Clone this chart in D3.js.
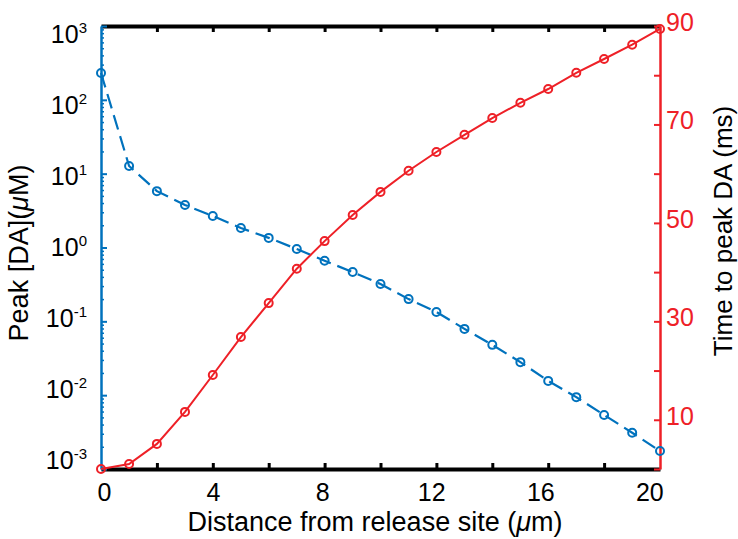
<!DOCTYPE html>
<html>
<head>
<meta charset="utf-8">
<script src="https://cdn.jsdelivr.net/npm/d3@7"></script>
<style>
  body { margin: 0; background: #fff; }
  text { font-family: "Liberation Sans", Arial, Helvetica, sans-serif; }
</style>
</head>
<body>
<div id="chart"></div>
<script>
// distance from release site (um), one point per step
var distance = [0, 1.03, 2.05, 3.08, 4.1, 5.13, 6.15, 7.18, 8.2, 9.23, 10.25,
                11.28, 12.3, 13.33, 14.35, 15.38, 16.4, 17.43, 18.45, 19.48, 20.5];

// peak [DA] (uM), left log axis
var peakDA = [231, 12.7, 5.8, 3.77, 2.67, 1.84, 1.35, 0.955, 0.66, 0.466, 0.32,
              0.20, 0.134, 0.079, 0.048, 0.028, 0.0156, 0.0094, 0.0054, 0.0031, 0.00175];

// time to peak DA (ms), right axis
var timeToPeak = [0, 1.0, 5.1, 11.6, 19.1, 26.8, 33.7, 40.7, 46.3, 51.6, 56.3,
                  60.6, 64.4, 67.9, 71.3, 74.4, 77.2, 80.5, 83.3, 86.2, 89.4];

var xLabels = [0, 4, 8, 12, 16, 20];
var leftExp = [3, 2, 1, 0, -1, -2, -3];
var rightLabels = [10, 30, 50, 70, 90];

var blue = "#0072bd",
    red = "#ee2027";

var W = 738, H = 539;
var margin = {top: 26, right: 78, bottom: 70, left: 101},
    width = W - margin.left - margin.right,
    height = H - margin.top - margin.bottom;

var svg = d3.select("#chart")
  .append("svg")
    .attr("width", W)
    .attr("height", H);

var g = svg.append("g")
    .attr("transform", "translate(" + margin.left + "," + margin.top + ")");

var x = d3.scaleLinear().domain([0, 20.5]).range([0, width]);
var yL = d3.scaleLog().domain([1e-3, 1e3]).range([height, 0]);
var yR = d3.scaleLinear().domain([0, 90]).range([height, 0]);
// the exported figure squeezes the left labels slightly towards the middle
var yLabel = d3.scaleLog().domain([1e-3, 1e3]).range([height - 9, 8]);

// ---- bottom / top black frame with inward ticks ----
var tickPos = distance.filter(function(d, i) { return i % 2 === 0 && i > 0 && i < 20; });

var xBottom = g.append("g")
    .attr("transform", "translate(0," + height + ")")
    .call(d3.axisTop(x).tickValues(tickPos).tickSize(6).tickSizeOuter(0).tickFormat(""));
var xTop = g.append("g")
    .call(d3.axisBottom(x).tickValues(tickPos).tickSize(6).tickSizeOuter(0).tickFormat(""));
[xBottom, xTop].forEach(function(a) {
  a.select(".domain").attr("stroke", "#000").attr("stroke-width", 4);
  a.selectAll(".tick line").attr("stroke", "#000").attr("stroke-width", 3);
});

// x tick labels
var xLab = g.append("g")
    .attr("transform", "translate(0," + height + ")")
    .call(d3.axisBottom(x).tickValues(xLabels).tickSize(0).tickPadding(32));
xLab.select(".domain").remove();
xLab.selectAll("text")
    .attr("fill", "#000")
    .style("font-size", "25px")
    .attr("dy", 0)
    .attr("dx", 3);

// ---- left log axis (blue), ticks inside ----
var minorVals = [];
for (var e = -3; e < 3; e++) {
  for (var m = 2; m <= 9; m++) minorVals.push(m * Math.pow(10, e));
}
var leftMinor = g.append("g")
    .call(d3.axisRight(yL).tickValues(minorVals).tickSize(3).tickFormat(""));
leftMinor.select(".domain").remove();
leftMinor.selectAll(".tick line").attr("stroke", blue).attr("stroke-width", 1.5);

var leftMajor = g.append("g")
    .call(d3.axisRight(yL).tickValues(leftExp.map(function(p) { return Math.pow(10, p); }))
      .tickSize(6).tickSizeOuter(0).tickFormat(""));
leftMajor.select(".domain").attr("stroke", blue).attr("stroke-width", 2.5);
leftMajor.selectAll(".tick line").attr("stroke", blue).attr("stroke-width", 2);

var leftLab = g.append("g").selectAll("text")
    .data(leftExp)
    .enter().append("text")
    .attr("x", -14)
    .attr("y", function(p) { return yLabel(Math.pow(10, p)) + 9; })
    .attr("text-anchor", "end")
    .style("font-size", "25px")
    .attr("fill", "#000");
leftLab.append("tspan").text("10");
leftLab.append("tspan")
    .attr("dy", -10)
    .style("font-size", "15px")
    .text(function(p) { return p; });

// ---- right linear axis (red), ticks inside ----
var right = g.append("g")
    .attr("transform", "translate(" + width + ",0)")
    .call(d3.axisLeft(yR).tickValues(d3.range(0, 91, 10)).tickSize(6).tickSizeOuter(0).tickFormat(""));
right.select(".domain").attr("stroke", red).attr("stroke-width", 2.5);
right.selectAll(".tick line").attr("stroke", red).attr("stroke-width", 2);

g.append("g").selectAll("text")
    .data(rightLabels)
    .enter().append("text")
    .attr("x", width + 6)
    .attr("y", function(d) { return yR(d) + 5; })
    .style("font-size", "25px")
    .attr("fill", red)
    .text(function(d) { return d; });

// ---- series ----
var lineL = d3.line()
    .x(function(d, i) { return x(distance[i]); })
    .y(function(d) { return yL(d); });
var lineR = d3.line()
    .x(function(d, i) { return x(distance[i]); })
    .y(function(d) { return yR(d); });

g.append("path")
    .datum(peakDA)
    .attr("d", lineL)
    .attr("fill", "none")
    .attr("stroke", blue)
    .attr("stroke-width", 2.2)
    .attr("stroke-dasharray", "15,7");

g.selectAll(".dotL")
    .data(peakDA)
    .enter().append("circle")
    .attr("class", "dotL")
    .attr("cx", function(d, i) { return x(distance[i]); })
    .attr("cy", function(d) { return yL(d); })
    .attr("r", 4)
    .attr("fill", "none")
    .attr("stroke", blue)
    .attr("stroke-width", 2);

g.append("path")
    .datum(timeToPeak)
    .attr("d", lineR)
    .attr("fill", "none")
    .attr("stroke", red)
    .attr("stroke-width", 2);

g.selectAll(".dotR")
    .data(timeToPeak)
    .enter().append("circle")
    .attr("class", "dotR")
    .attr("cx", function(d, i) { return x(distance[i]); })
    .attr("cy", function(d) { return yR(d); })
    .attr("r", 4)
    .attr("fill", "none")
    .attr("stroke", red)
    .attr("stroke-width", 2);

// ---- axis titles ----
svg.append("text")
    .attr("x", 375)
    .attr("y", 531)
    .attr("text-anchor", "middle")
    .style("font-size", "27px")
    .attr("fill", "#000")
    .html('Distance from release site (<tspan font-style="italic">μ</tspan>m)');

svg.append("text")
    .attr("transform", "translate(28,253) rotate(-90)")
    .attr("text-anchor", "middle")
    .style("font-size", "27px")
    .attr("fill", "#000")
    .html('Peak [DA](<tspan font-style="italic">μ</tspan>M)');

svg.append("text")
    .attr("transform", "translate(732,231) rotate(-90)")
    .attr("text-anchor", "middle")
    .style("font-size", "26px")
    .attr("fill", "#000")
    .text("Time to peak DA (ms)");
</script>
</body>
</html>
